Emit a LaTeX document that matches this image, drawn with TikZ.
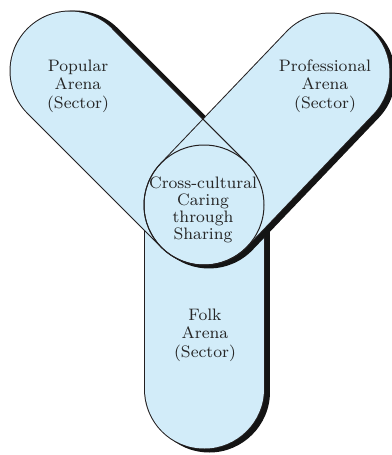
\documentclass[tikz,border=0pt]{standalone}
\usepackage{xcolor}
\usepackage{tikz}
\usetikzlibrary{calc}
\definecolor{arenablue}{RGB}{210,236,249}
\definecolor{rimgray}{RGB}{35,31,32}

\begin{document}
\begin{tikzpicture}[x=0.5pt, y=-0.5pt,
  armshadow/.style={line width=60.5pt, line cap=round, black!92},
  armrim/.style={line width=60.5pt, line cap=round, rimgray},
  armbody/.style={line width=59.5pt, line cap=round, arenablue},
  armline/.style={line width=0.5pt, rimgray},
  arenatext/.style={align=center, text=black!85, font=\fontsize{8.3}{9.2}\selectfont}]
  \useasboundingbox (0,0) rectangle (391,455);
  \coordinate (hub) at (204,205);
  \coordinate (popend) at (70,71);
  \coordinate (proend) at (330,73);
  \coordinate (folkend) at (204,389);

  % folk arm
  \draw [armshadow] ([shift={(5,3)}]hub) -- ([shift={(5,3)}]folkend);
  \draw [armrim] (hub) -- (folkend);
  \draw [armbody] (hub) -- (folkend);
  % popular arm
  \draw [armshadow] ([shift={(5,0)}]hub) -- ([shift={(5,0)}]popend);
  \draw [armrim] (hub) -- (popend);
  \draw [armbody] (hub) -- (popend);
  % professional arm
  \draw [armshadow] ([shift={(5,3)}]hub) -- ([shift={(5,3)}]proend);
  \draw [armrim] (hub) -- (proend);
  \draw [armbody] (hub) -- (proend);

  % overlap
  \draw [armline] ($(hub)!30pt!-90:(popend)$) -- ($(popend)!30pt!90:(hub)$);
  \draw [armline] (hub) circle [radius=30pt];

  \node (popular) [arenatext] at (78,86) {Popular\\Arena\\(Sector)};
  \node (professional) [arenatext] at (325,86) {Professional\\Arena\\(Sector)};
  \node (caring) [arenatext, font=\fontsize{8.3}{8.4}\selectfont] at (203,210) {Cross-cultural\\Caring\\through\\Sharing};
  \node (folk) [arenatext] at (205,335) {Folk\\Arena\\(Sector)};
\end{tikzpicture}
\end{document}
